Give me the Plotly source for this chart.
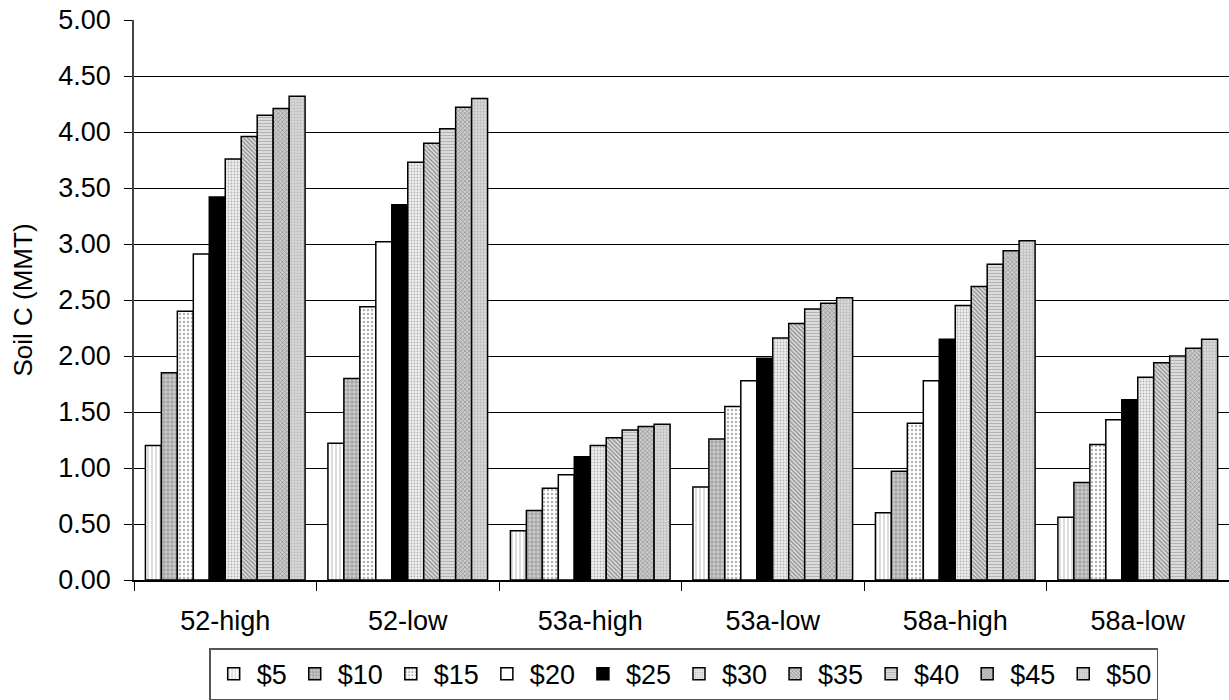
import plotly.graph_objects as go

categories = ["52-high", "52-low", "53a-high", "53a-low", "58a-high", "58a-low"]
series_names = ["$5", "$10", "$15", "$20", "$25", "$30", "$35", "$40", "$45", "$50"]
v_5 = [1.20, 1.22, 0.44, 0.83, 0.60, 0.56]
v_10 = [1.85, 1.80, 0.62, 1.26, 0.97, 0.87]
v_15 = [2.40, 2.44, 0.82, 1.55, 1.40, 1.21]
v_20 = [2.91, 3.02, 0.94, 1.78, 1.78, 1.43]
v_25 = [3.42, 3.35, 1.10, 1.98, 2.15, 1.61]
v_30 = [3.76, 3.73, 1.20, 2.16, 2.45, 1.81]
v_35 = [3.96, 3.90, 1.27, 2.29, 2.62, 1.94]
v_40 = [4.15, 4.03, 1.34, 2.42, 2.82, 2.00]
v_45 = [4.21, 4.22, 1.37, 2.47, 2.94, 2.07]
v_50 = [4.32, 4.30, 1.39, 2.52, 3.03, 2.15]
values = [v_5, v_10, v_15, v_20, v_25, v_30, v_35, v_40, v_45, v_50]

styles = [
    dict(color="white", pattern=dict(shape="|", fgcolor="#555", bgcolor="white", size=4, solidity=0.2)),
    dict(color="#bbb", pattern=dict(shape="+", fgcolor="#444", bgcolor="#ccc", size=4, solidity=0.3)),
    dict(color="white", pattern=dict(shape=".", fgcolor="#666", bgcolor="white", size=4, solidity=0.3)),
    dict(color="white", pattern=dict(shape="")),
    dict(color="black", pattern=dict(shape="")),
    dict(color="#ddd", pattern=dict(shape=".", fgcolor="#777", bgcolor="#eee", size=3, solidity=0.3)),
    dict(color="#999", pattern=dict(shape="\\", fgcolor="#333", bgcolor="#ddd", size=3, solidity=0.4)),
    dict(color="#ccc", pattern=dict(shape="-", fgcolor="#888", bgcolor="#e0e0e0", size=3, solidity=0.4)),
    dict(color="#999", pattern=dict(shape="x", fgcolor="#444", bgcolor="#ccc", size=3, solidity=0.35)),
    dict(color="#ccc", pattern=dict(shape=".", fgcolor="#999", bgcolor="#ddd", size=3, solidity=0.45)),
]

fig = go.Figure()
for name, vals, st in zip(series_names, values, styles):
    fig.add_trace(go.Bar(
        x=categories, y=vals, name=name,
        marker=dict(color=st["color"], pattern=st["pattern"],
                    line=dict(color="black", width=1.5)),
    ))

fig.update_layout(
    width=1229, height=700,
    margin=dict(l=134, r=0, t=20, b=120, autoexpand=False),
    paper_bgcolor="white", plot_bgcolor="white",
    barmode="group", bargap=0.125, bargroupgap=0,
    font=dict(family="Liberation Sans, Arial, sans-serif", size=27, color="black"),
    showlegend=True,
    legend=dict(orientation="h", x=0.502, xanchor="center", y=-0.2145, yanchor="bottom",
                bordercolor="#555", borderwidth=1.5, font=dict(size=27),
                itemwidth=36, tracegroupgap=0),
    xaxis=dict(showline=True, linecolor="black", linewidth=1.5, automargin=False,
               ticks="outside", tickson="boundaries", ticklen=9, tickcolor="black",
               tickfont=dict(size=27), ticklabelstandoff=16),
    yaxis=dict(range=[0, 5], dtick=0.5, tickformat=".2f", automargin=False,
               showgrid=True, gridcolor="black", gridwidth=1,
               showline=True, linecolor="#444", linewidth=1.5,
               ticks="outside", ticklen=8, tickcolor="black",
               tickfont=dict(size=27), ticklabelstandoff=8,
               title=dict(text="Soil C (MMT)", font=dict(size=26), standoff=18)),
)

fig.write_html("out.html")
